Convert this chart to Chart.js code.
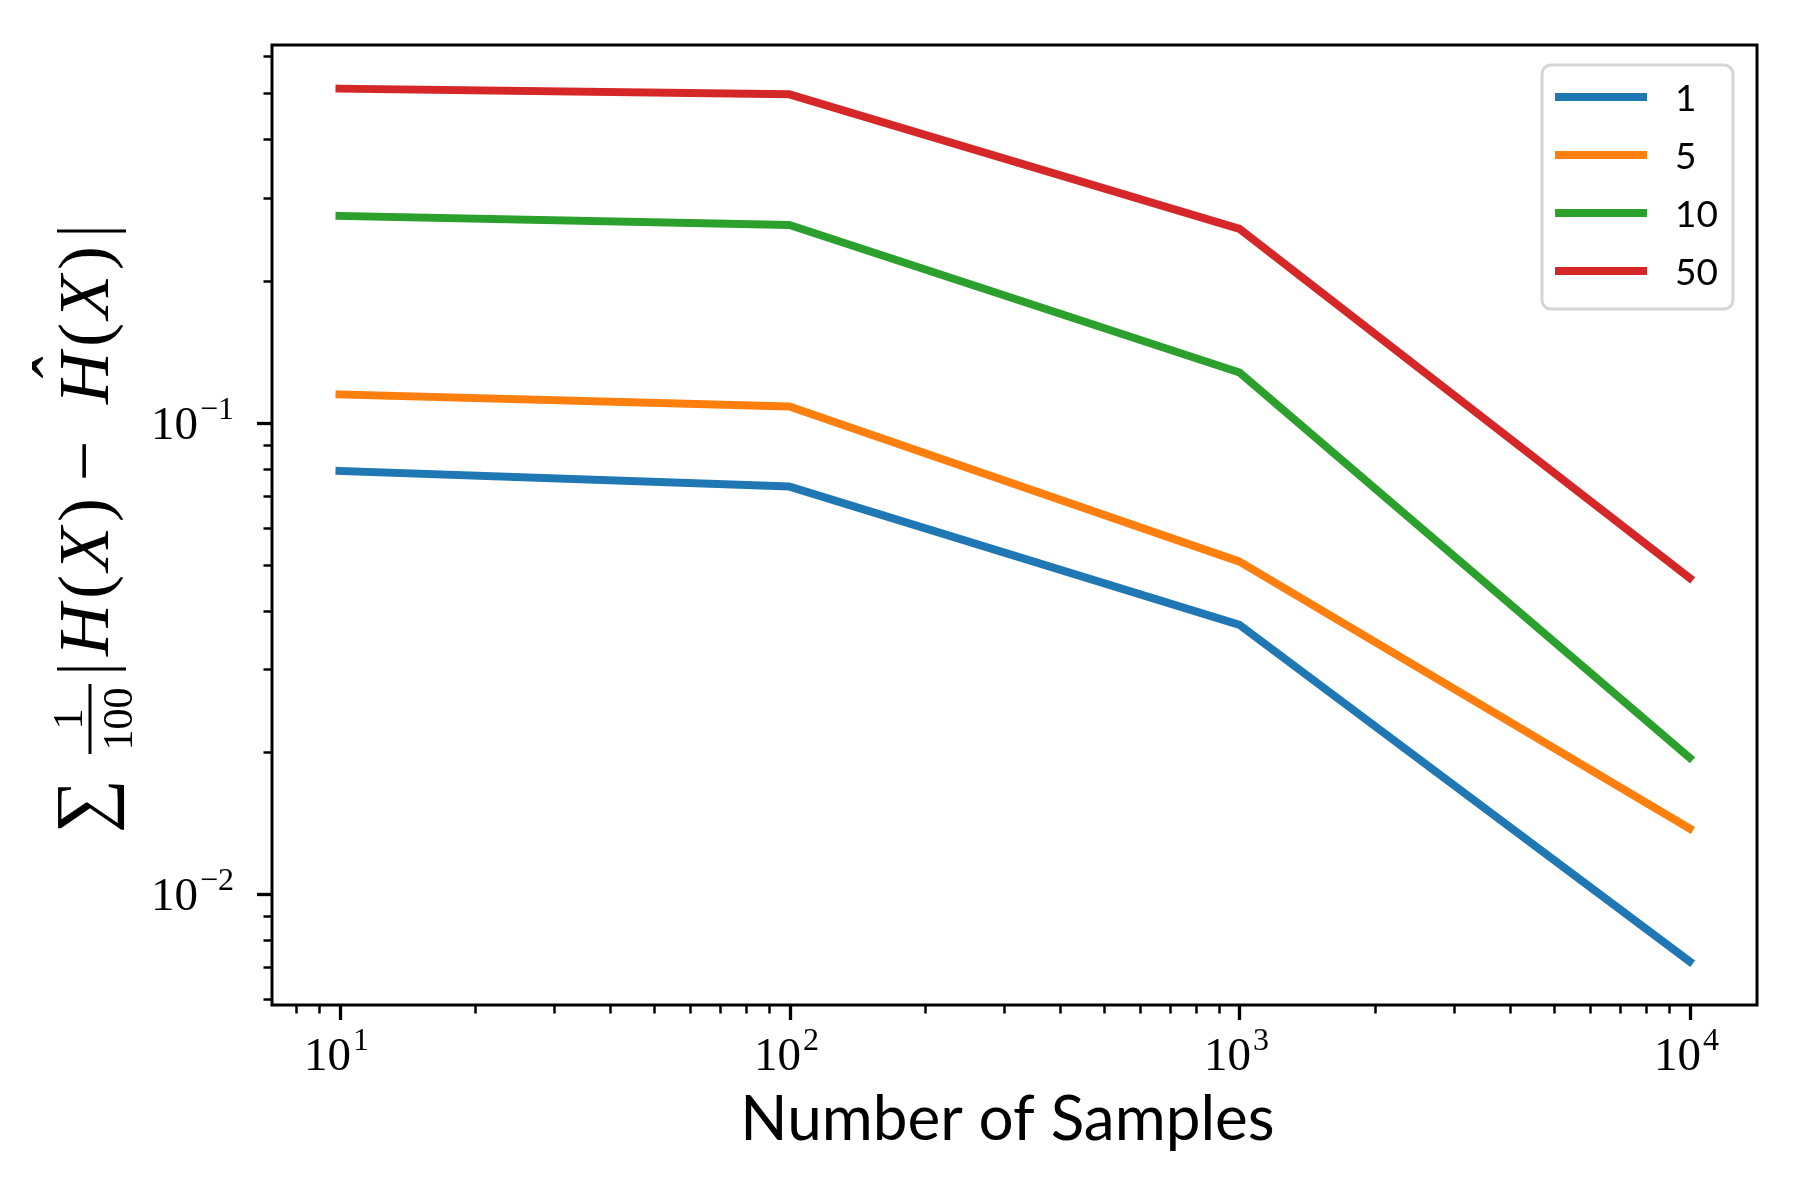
<!DOCTYPE html>
<html>
<head>
<meta charset="utf-8">
<script src="https://cdn.jsdelivr.net/npm/chart.js@4.4.0/dist/chart.umd.min.js"></script>
<style>
  html, body { margin: 0; padding: 0; background: #fff; }
  canvas { display: block; }
</style>
</head>
<body>
<canvas id="chart" width="1800" height="1200"></canvas>
<script>
// Sample sizes on the x axis
const samples = [10, 100, 1000, 10000];
// Series names shown in the legend
const seriesNames = ['1', '5', '10', '50'];
// Error values, one array per series
const err1 = [0.0791, 0.0733, 0.0373, 0.00721];
const err5 = [0.115, 0.1084, 0.0508, 0.0138];
const err10 = [0.275, 0.263, 0.128, 0.0195];
const err50 = [0.512, 0.498, 0.258, 0.0469];
// Labelled decades (powers of ten)
const xTickExps = [1, 2, 3, 4];
const yTickExps = [-2, -1];

const allErr = [err1, err5, err10, err50];
const colors = ['#1f77b4', '#ff7f0e', '#2ca02c', '#d62728'];

// matplotlib style 5% margin in log space
function logBounds(vals) {
    const lo = Math.log10(Math.min(...vals));
    const hi = Math.log10(Math.max(...vals));
    const m = (hi - lo) * 0.05;
    return [10 ** (lo - m), 10 ** (hi + m)];
}
const [xMin, xMax] = logBounds(samples);
const [yMin, yMax] = logBounds(allErr.flat());

// all 1..9 x 10^n positions inside the range
function logTicks(min, max) {
    const out = [];
    for (let n = Math.floor(Math.log10(min)); n <= Math.ceil(Math.log10(max)); n++) {
        for (let k = 1; k < 10; k++) {
            const v = k * 10 ** n;
            if (v >= min && v <= max) out.push({ v: v, major: k === 1 });
        }
    }
    return out;
}

const SERIF = '"Liberation Serif", "DejaVu Serif", serif';

// draws "10" with a raised exponent
function drawPow(ctx, e, x, y, align) {
    const es = e < 0 ? '\u2212' + (-e) : String(e);
    ctx.font = '47px ' + SERIF;
    const w1 = ctx.measureText('10').width;
    ctx.font = '32px ' + SERIF;
    const w2 = ctx.measureText(es).width;
    const total = w1 + 2 + w2;
    const x0 = align === 'center' ? x - total / 2 : x - total;
    ctx.textAlign = 'left';
    ctx.textBaseline = 'alphabetic';
    ctx.font = '47px ' + SERIF;
    ctx.fillText('10', x0, y);
    ctx.font = '32px ' + SERIF;
    ctx.fillText(es, x0 + w1 + 2, y - 20);
}

// rotated y title: sum 1/100 |H(X) - H^(X)|
// u runs up the page, v runs to the right
function drawYTitle(ctx) {
    const rm = '72px ' + SERIF, it = 'italic 72px ' + SERIF;
    const frac = '42px ' + SERIF;
    ctx.save();
    ctx.translate(97, 530);
    ctx.rotate(-Math.PI / 2);
    ctx.fillStyle = '#000';
    ctx.strokeStyle = '#000';
    ctx.textBaseline = 'alphabetic';
    const base = 11;
    const w = (f, s) => { ctx.font = f; return ctx.measureText(s).width; };

    // sigma
    ctx.textAlign = 'center';
    ctx.font = '76px ' + SERIF;
    ctx.fillText('\u2211', -276, base);

    // fraction 1/100
    ctx.font = frac;
    ctx.fillText('1', -189, -15);
    ctx.fillText('100', -189, 35);
    ctx.lineWidth = 3;
    ctx.beginPath(); ctx.moveTo(-224, -7); ctx.lineTo(-154, -7); ctx.stroke();

    // abs bars
    const bar = (p) => {
        ctx.lineWidth = 3;
        ctx.beginPath(); ctx.moveTo(p, -40); ctx.lineTo(p, 29); ctx.stroke();
    };
    bar(-139);
    bar(299);

    const parts = [[it, 'H', 5], [rm, '(', 4], [it, 'X', 5], [rm, ')', 0]];
    const drawHX = (u0, hat) => {
        let u = u0;
        ctx.textAlign = 'left';
        parts.forEach((p, i) => {
            ctx.font = p[0];
            ctx.fillText(p[1], u, base);
            if (i === 0 && hat) {
                ctx.font = '58px ' + SERIF;
                ctx.textAlign = 'center';
                ctx.fillText('\u02C6', u + w(it, 'H') / 2 + 6, base - 26);
                ctx.textAlign = 'left';
            }
            u += w(p[0], p[1]) + p[2];
        });
    };
    drawHX(-126, false);
    ctx.textAlign = 'center';
    ctx.font = rm;
    ctx.fillText('\u2212', 69, base);
    drawHX(126, true);
    ctx.restore();
}

const decor = {
    id: 'decor',
    afterDraw(chart) {
        const ctx = chart.ctx, a = chart.chartArea;
        const xs = chart.scales.x, ys = chart.scales.y;
        ctx.save();
        ctx.strokeStyle = '#000';
        ctx.fillStyle = '#000';

        // ticks
        logTicks(xMin, xMax).forEach(t => {
            const px = Math.round(xs.getPixelForValue(t.v)) + 0.5;
            ctx.lineWidth = t.major ? 3.3 : 2.5;
            ctx.beginPath();
            ctx.moveTo(px, a.bottom);
            ctx.lineTo(px, a.bottom + (t.major ? 15 : 8.5));
            ctx.stroke();
        });
        logTicks(yMin, yMax).forEach(t => {
            const py = Math.round(ys.getPixelForValue(t.v)) + 0.5;
            ctx.lineWidth = t.major ? 3.3 : 2.5;
            ctx.beginPath();
            ctx.moveTo(a.left - (t.major ? 15 : 8.5), py);
            ctx.lineTo(a.left, py);
            ctx.stroke();
        });

        // frame
        ctx.lineWidth = 3;
        ctx.strokeRect(a.left, a.top, a.right - a.left, a.bottom - a.top);

        // tick labels
        xTickExps.forEach(e => drawPow(ctx, e, xs.getPixelForValue(10 ** e) - 3, 1070, 'center'));
        yTickExps.forEach(e => drawPow(ctx, e, 234, ys.getPixelForValue(10 ** e) + 16, 'right'));

        // x title
        ctx.font = '62px Lato';
        ctx.textAlign = 'center';
        ctx.textBaseline = 'alphabetic';
        ctx.fillText('Number of Samples', (a.left + a.right) / 2 - 7, 1140);

        drawYTitle(ctx);

        // legend
        ctx.beginPath();
        ctx.roundRect(1542, 65, 191, 244, 9);
        ctx.fillStyle = 'rgba(255,255,255,0.8)';
        ctx.fill();
        ctx.strokeStyle = '#d6d6d6';
        ctx.lineWidth = 3;
        ctx.stroke();
        chart.data.datasets.forEach((ds, i) => {
            const ly = 97 + 58 * i;
            ctx.strokeStyle = ds.borderColor;
            ctx.lineWidth = 8;
            ctx.beginPath();
            ctx.moveTo(1555, ly);
            ctx.lineTo(1647, ly);
            ctx.stroke();
            ctx.fillStyle = '#000';
            ctx.font = '37px Lato';
            ctx.textAlign = 'left';
            ctx.textBaseline = 'middle';
            ctx.fillText(ds.label, 1675, ly + 2);
        });
        ctx.restore();
    }
};

const ctxMain = document.getElementById('chart').getContext('2d');
const chart = new Chart(ctxMain, {
    type: 'line',
    data: {
        datasets: seriesNames.map((name, i) => ({
            label: name,
            data: samples.map((x, j) => ({ x: x, y: allErr[i][j] })),
            borderColor: colors[i],
            borderWidth: 8,
            borderCapStyle: 'square',
            borderJoinStyle: 'round',
            pointRadius: 0,
            fill: false,
            tension: 0
        }))
    },
    options: {
        responsive: false,
        animation: false,
        devicePixelRatio: 1,
        layout: { padding: { top: 45, right: 43, left: 0, bottom: 0 } },
        plugins: { legend: { display: false }, tooltip: { enabled: false } },
        scales: {
            x: {
                type: 'logarithmic',
                min: xMin,
                max: xMax,
                ticks: { display: false },
                grid: { display: false },
                border: { display: false },
                afterFit: s => { s.height = 195; }
            },
            y: {
                type: 'logarithmic',
                min: yMin,
                max: yMax,
                ticks: { display: false },
                grid: { display: false },
                border: { display: false },
                afterFit: s => { s.width = 272; }
            }
        }
    },
    plugins: [decor]
});
</script>
</body>
</html>
